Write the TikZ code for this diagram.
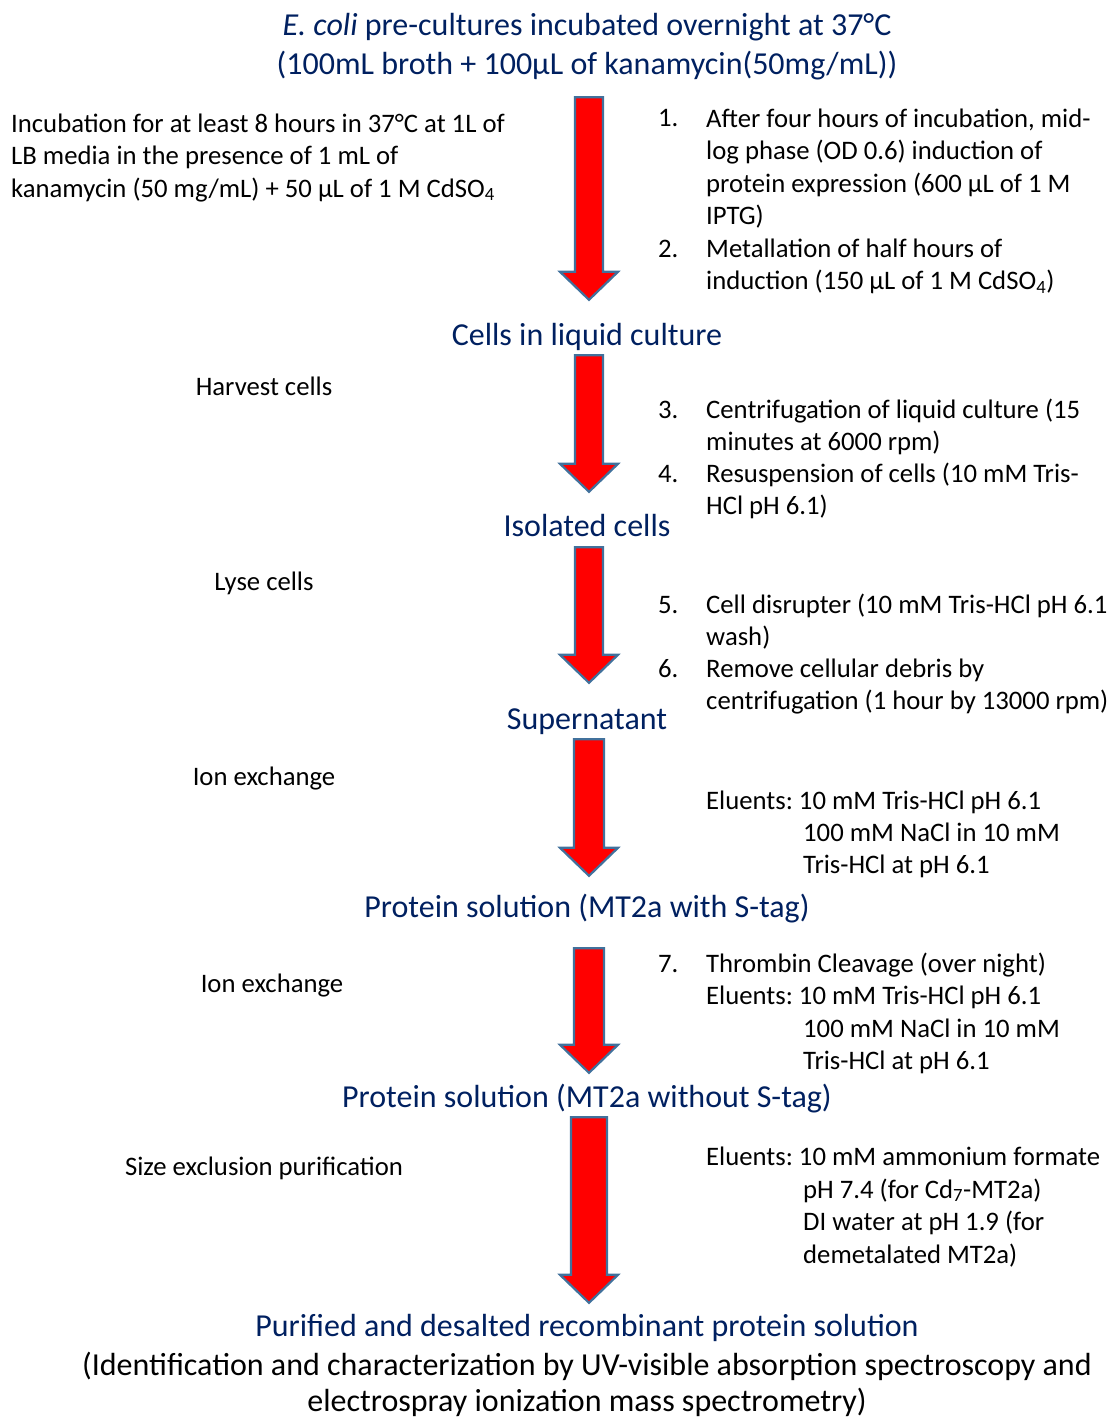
\documentclass[tikz,border=0pt]{standalone}
\usepackage{fontspec}
\setmainfont{Carlito}
\usetikzlibrary{calc}
\frenchspacing

\definecolor{headblue}{RGB}{0,32,96}
\definecolor{arrowedge}{RGB}{65,113,156}

\tikzset{
  heading/.style={text=headblue, font=\fontsize{32}{39}\selectfont, inner sep=0pt, text height=22pt, text depth=8pt, anchor=base},
  body/.style={font=\fontsize{26.7}{32.5}\selectfont, inner sep=0pt, align=left, anchor=base west},
  sidenote/.style={body, anchor=base},
  blockarrow/.style={fill=red, draw=arrowedge, line width=2.2pt, line join=miter}
}

% block arrow: from node, to node, top gap, bottom gap, half shaft width
\newcommand{\flowarrow}[5]{%
  \draw[blockarrow]
    ($(#1.south)+(2-#5,#3)$) -- ($(#2.north)+(2-#5,-#4-28)$) -- ($(#2.north)+(-27,-#4-28)$)
    -- ($(#2.north)+(2,-#4)$) -- ($(#2.north)+(31,-#4-28)$) -- ($(#2.north)+(2+#5,-#4-28)$)
    -- ($(#1.south)+(2+#5,#3)$) -- cycle;}

\begin{document}
\begin{tikzpicture}[x=1pt,y=-1pt]
        \useasboundingbox (0,0) rectangle (1110,1418);

        % Steps
        \node[heading] (coli1) at (587,36) {\textit{E. coli} pre-cultures incubated overnight at 37°C};
        \node[heading] (coli2) at (587,75) {(100mL broth + 100µL of kanamycin(50mg/mL))};
        \node[heading] (culture) at (587,345) {Cells in liquid culture};
        \node[heading] (isolated) at (587,536) {Isolated cells};
        \node[heading] (super) at (587,729) {Supernatant};
        \node[heading] (stag) at (587,917) {Protein solution (MT2a with S-tag)};
        \node[heading] (nostag) at (587,1107) {Protein solution (MT2a without S-tag)};
        \node[heading] (pure) at (587,1336) {Purified and desalted recombinant protein solution};
        \node[heading, text=black] (ident1) at (587,1375) {(Identification and characterization by UV-visible absorption spectroscopy and};
        \node[heading, text=black] (ident2) at (587,1411) {electrospray ionization mass spectrometry)};

        % Arrows
        \flowarrow{coli2}{culture}{14}{23}{14}
        \flowarrow{culture}{isolated}{2}{22}{14}
        \flowarrow{isolated}{super}{3}{24}{14}
        \flowarrow{super}{stag}{2}{19}{15}
        \flowarrow{stag}{nostag}{23}{12}{15}
        \flowarrow{nostag}{pure}{2}{11}{18}

        % Left notes (multi-line nodes sit on their last baseline)
        \node[body] (incub) at (11,197) {Incubation for at least 8 hours in 37°C at 1L of\\LB media in the presence of 1 mL of\\kanamycin (50 mg/mL) + 50 µL of 1 M CdSO\textsubscript{4}};
        \node[sidenote] (harvest) at (264,395) {Harvest cells};
        \node[sidenote] (lyse) at (264,590) {Lyse cells};
        \node[sidenote] (ionex1) at (264,785) {Ion exchange};
        \node[sidenote] (ionex2) at (272,992) {Ion exchange};
        \node[sidenote] (sizeex) at (264,1175) {Size exclusion purification};

        % Numbered conditions
        \node[body] (num1) at (658,127) {1.};
        \node[body] (cond1) at (706,224.5) {After four hours of incubation, mid-\\log phase (OD 0.6) induction of\\protein expression (600 µL of 1 M\\IPTG)};
        \node[body] (num2) at (658,257) {2.};
        \node[body] (cond2) at (706,289.5) {Metallation of half hours of\\induction (150 µL of 1 M CdSO\textsubscript{4})};
        \node[body] (num3) at (658,418) {3.};
        \node[body] (cond3) at (706,450.5) {Centrifugation of liquid culture (15\\minutes at 6000 rpm)};
        \node[body] (num4) at (658,482) {4.};
        \node[body] (cond4) at (706,514.5) {Resuspension of cells (10 mM Tris-\\HCl pH 6.1)};
        \node[body] (num5) at (658,613) {5.};
        \node[body] (cond5) at (706,645.5) {Cell disrupter (10 mM Tris-HCl pH 6.1\\wash)};
        \node[body] (num6) at (658,677) {6.};
        \node[body] (cond6) at (706,709.5) {Remove cellular debris by\\centrifugation (1 hour by 13000 rpm)};
        \node[body] (elu1) at (706,809) {Eluents: 10 mM Tris-HCl pH 6.1};
        \node[body] (elu1b) at (803,873.5) {100 mM NaCl in 10 mM\\Tris-HCl at pH 6.1};
        \node[body] (num7) at (658,972) {7.};
        \node[body] (cond7) at (706,1004.5) {Thrombin Cleavage (over night)\\Eluents: 10 mM Tris-HCl pH 6.1};
        \node[body] (elu2b) at (803,1069.5) {100 mM NaCl in 10 mM\\Tris-HCl at pH 6.1};
        \node[body] (elu3) at (706,1165) {Eluents: 10 mM ammonium formate};
        \node[body] (elu3b) at (803,1263) {pH 7.4 (for Cd\textsubscript{7}-MT2a)\\DI water at pH 1.9 (for\\demetalated MT2a)};
      \end{tikzpicture}
\end{document}
